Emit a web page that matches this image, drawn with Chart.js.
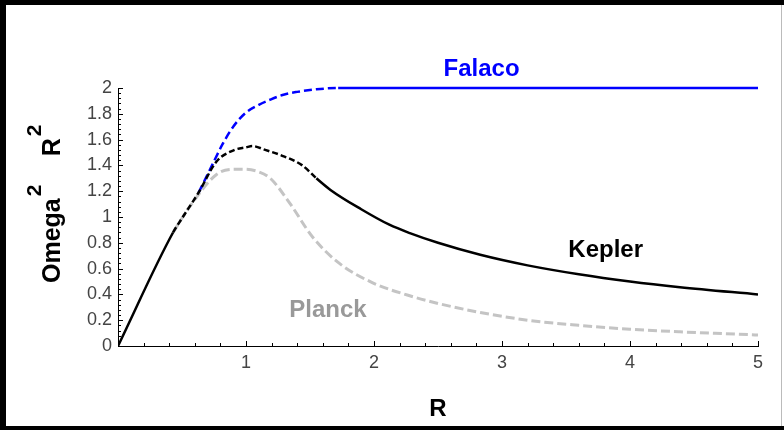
<!DOCTYPE html>
<html>
<head>
<meta charset="utf-8">
<script src="https://cdn.jsdelivr.net/npm/chart.js@4/dist/chart.umd.min.js"></script>
<style>
  html, body { margin: 0; padding: 0; background: #fff; }
  canvas { display: block; }
</style>
</head>
<body>
<canvas id="omegaChart" width="784" height="430"></canvas>
<script>
// Omega^2 R^2 against R for the three models
const keplerR = [0, 0.43, 0.5, 0.63, 0.77, 0.91, 1.0, 1.05, 1.15, 1.27, 1.44, 1.55, 1.66, 1.9, 2.12, 2.28, 2.5, 2.83, 3.2, 3.6, 4.0, 4.39, 5.0];
const keplerV = [0, 0.88, 0.99, 1.19, 1.43, 1.52, 1.54, 1.55, 1.52, 1.48, 1.40, 1.30, 1.21, 1.06, 0.94, 0.875, 0.80, 0.707, 0.625, 0.556, 0.50, 0.456, 0.40];

const falacoR = [0.63, 0.7, 0.82, 0.9, 1.0, 1.1, 1.19, 1.3, 1.4, 1.55, 1.72, 2, 3, 4, 5];
const falacoV = [1.19, 1.33, 1.57, 1.70, 1.81, 1.87, 1.91, 1.95, 1.97, 1.99, 2.0, 2.0, 2.0, 2.0, 2.0];

const planckR = [0.43, 0.56, 0.77, 0.9, 0.99, 1.1, 1.19, 1.34, 1.52, 1.73, 1.99, 2.26, 2.5, 2.83, 3.2, 3.6, 4.0, 4.39, 5.0];
const planckV = [0.88, 1.08, 1.33, 1.37, 1.37, 1.35, 1.30, 1.11, 0.845, 0.64, 0.49, 0.395, 0.33, 0.26, 0.20, 0.16, 0.13, 0.11, 0.085];

const xTicks = [0, 1, 2, 3, 4, 5];
const yTicks = [0, 0.2, 0.4, 0.6, 0.8, 1, 1.2, 1.4, 1.6, 1.8, 2];

const FONT = "'Liberation Sans', Arial, sans-serif";

const toPoints = (xs, ys) => xs.map((x, i) => ({x: x, y: ys[i]}));

// dash only the part of a curve between two R values
const dashBetween = (from, to, dash) => ctx => {
  const x = ctx.p0.parsed.x;
  return (x >= from - 1e-9 && x < to) ? dash : undefined;
};

const axisTicks = {
  id: 'axisTicks',
  afterDatasetsDraw(chart) {
    const {ctx, chartArea: a, scales: {x, y}} = chart;
    ctx.save();
    ctx.strokeStyle = '#000';
    ctx.lineWidth = 1;
    ctx.beginPath();
    // y: minor every 0.04, major every 0.2, pointing into the plot
    for (let i = 0; i <= 50; i++) {
      const py = Math.round(y.getPixelForValue(i * 0.04)) + 0.5;
      const len = i % 5 === 0 ? 5 : 3;
      ctx.moveTo(a.left, py);
      ctx.lineTo(a.left + len, py);
    }
    // x: minor every 0.2, major at integers
    for (let i = 0; i <= 25; i++) {
      const px = Math.round(x.getPixelForValue(i * 0.2)) + 0.5;
      const len = i % 5 === 0 ? 5 : 3;
      ctx.moveTo(px, a.bottom);
      ctx.lineTo(px, a.bottom - len);
    }
    ctx.stroke();
    ctx.restore();
  }
};

const annotations = {
  id: 'annotations',
  afterDraw(chart) {
    const {ctx, scales: {x, y}} = chart;
    ctx.save();
    ctx.textBaseline = 'alphabetic';
    ctx.textAlign = 'center';
    ctx.font = 'bold 24px ' + FONT;

    ctx.fillStyle = '#0000ff';
    ctx.fillText('Falaco', x.getPixelForValue(2.84), y.getPixelForValue(2.09));
    ctx.fillStyle = '#000';
    ctx.fillText('Kepler', x.getPixelForValue(3.81), y.getPixelForValue(0.69));
    ctx.fillStyle = '#999';
    ctx.fillText('Planck', x.getPixelForValue(1.64), y.getPixelForValue(0.225));

    // axis titles
    ctx.fillStyle = '#000';
    ctx.fillText('R', x.getPixelForValue(2.5), 416);

    ctx.translate(60, 283);
    ctx.rotate(-Math.PI / 2);
    ctx.textAlign = 'left';
    ctx.font = 'bold 25px ' + FONT;
    ctx.fillText('Omega', 0, 0);
    const w = ctx.measureText('Omega').width;
    ctx.font = 'bold 21px ' + FONT;
    ctx.fillText('2', w + 2, -19);
    ctx.font = 'bold 25px ' + FONT;
    ctx.fillText('R', w + 42, 0);
    ctx.font = 'bold 21px ' + FONT;
    ctx.fillText('2', w + 62, -19);
    ctx.restore();

    // picture frame
    ctx.save();
    ctx.fillStyle = '#000';
    ctx.fillRect(0, 0, 6, 430);
    ctx.fillRect(0, 0, 784, 5);
    ctx.fillRect(0, 426, 784, 4);
    ctx.fillStyle = '#fff';
    ctx.fillRect(782, 5, 2, 421);
    ctx.fillStyle = '#bbb';
    ctx.fillRect(781, 5, 1, 421);
    ctx.restore();
  }
};

new Chart(document.getElementById('omegaChart'), {
  type: 'scatter',
  data: {
    datasets: [
      {
        label: 'Kepler',
        data: toPoints(keplerR, keplerV),
        borderColor: '#000',
        borderWidth: 2.5,
        segment: { borderDash: dashBetween(0.43, 1.45, [6, 3]) }
      },
      {
        label: 'Falaco',
        data: toPoints(falacoR, falacoV),
        borderColor: '#0000ff',
        borderWidth: 2.5,
        clip: 4,
        segment: { borderDash: dashBetween(0, 1.72, [8, 4]) }
      },
      {
        label: 'Planck',
        data: toPoints(planckR, planckV),
        borderColor: '#c4c4c4',
        borderWidth: 3,
        borderDash: [9, 4]
      }
    ]
  },
  options: {
    responsive: false,
    animation: false,
    showLine: true,
    elements: {
      point: { radius: 0, hoverRadius: 0 },
      line: { cubicInterpolationMode: 'monotone', fill: false }
    },
    layout: { padding: { left: 0, top: 88, right: 26, bottom: 0 } },
    plugins: {
      legend: { display: false },
      tooltip: { enabled: false }
    },
    scales: {
      x: {
        type: 'linear',
        min: 0,
        max: 5,
        afterBuildTicks: s => { s.ticks = xTicks.map(v => ({value: v})); },
        afterFit: s => { s.height = 84; },
        grid: { display: false, drawTicks: false },
        border: { display: true, color: '#000', width: 1 },
        ticks: {
          callback: v => v === 0 ? '' : String(v),
          color: '#444',
          font: { family: FONT, size: 18 },
          padding: 6,
          maxRotation: 0
        }
      },
      y: {
        min: 0,
        max: 2,
        afterBuildTicks: s => { s.ticks = yTicks.map(v => ({value: v})); },
        afterFit: s => { s.width = 118; },
        grid: { display: false, drawTicks: false },
        border: { display: true, color: '#000', width: 1 },
        ticks: {
          callback: v => String(Math.round(v * 10) / 10),
          color: '#444',
          font: { family: FONT, size: 18 },
          padding: 6
        }
      }
    }
  },
  plugins: [axisTicks, annotations]
});
</script>
</body>
</html>
